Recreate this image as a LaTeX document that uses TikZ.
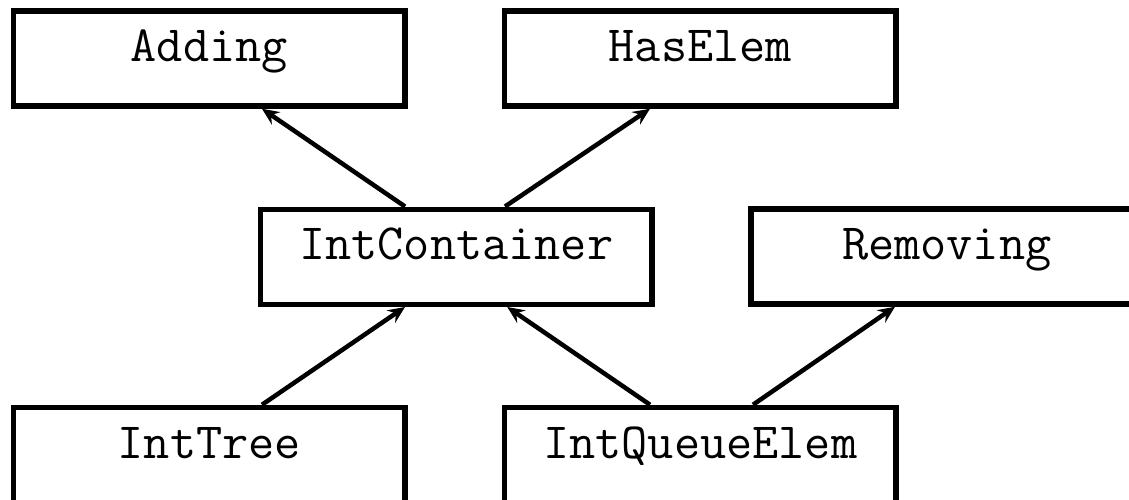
\documentclass[tikz,border=0pt]{standalone}
\usetikzlibrary{arrows.meta}
\begin{document}
\begin{tikzpicture}[x=1pt,y=1pt,
  box/.style={draw, line width=5.5pt, rectangle, inner sep=0pt,
    minimum width=391.5pt, minimum height=95pt,
    font=\ttfamily\fontsize{50.8}{60}\selectfont,
    text height=0.611em, text depth=0pt},
  conn/.style={line width=4.5pt, -{Stealth[length=17pt, width=15pt, inset=6pt]}}]
\clip (0,0) rectangle (1129,499);
\node[box] (adding) at (209.25,440.5) {Adding};
\node[box] (haselem) at (700.25,440.5) {HasElem};
\node[box] (container) at (456.25,242.25) {IntContainer};
\node[box] (removing) at (946.75,242.5) {Removing};
\node[box] (tree) at (209.25,44) {IntTree};
\node[box] (queue) at (700.25,44) {IntQueueElem};
\draw[conn] ([xshift=-51.25pt]container.north) -- ([xshift=52.75pt]adding.south);
\draw[conn] ([xshift=48.75pt]container.north) -- ([xshift=-50.25pt]haselem.south);
\draw[conn] ([xshift=52.75pt]tree.north) -- ([xshift=-51.25pt]container.south);
\draw[conn] ([xshift=-50.25pt]queue.north) -- ([xshift=51pt]container.south);
\draw[conn] ([xshift=52.75pt]queue.north) -- ([xshift=-51.75pt]removing.south);
\end{tikzpicture}
\end{document}
